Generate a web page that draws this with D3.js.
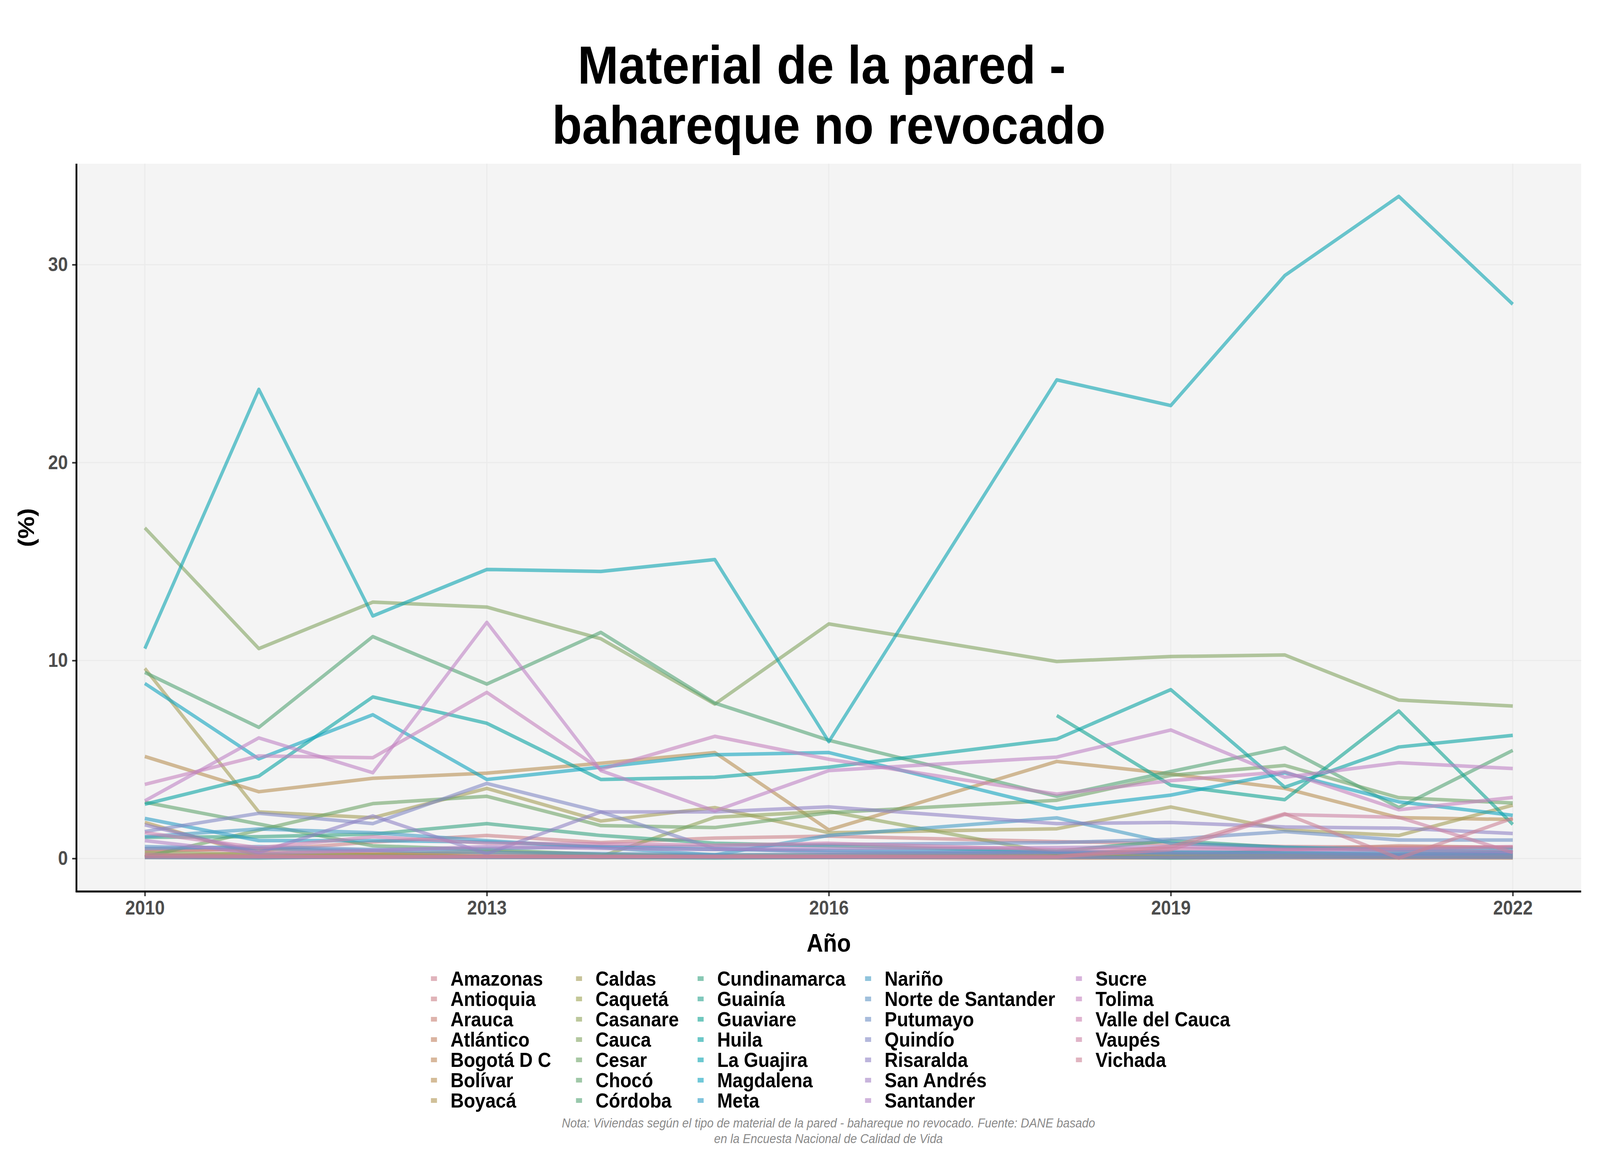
<!DOCTYPE html>
<html>
<head>
<meta charset="utf-8">
<script src="https://cdn.jsdelivr.net/npm/d3@7"></script>
<style>
  html, body { margin: 0; padding: 0; background: #ffffff; overflow: hidden; }
  svg { display: block; }
  text { font-family: "Liberation Sans", Arial, sans-serif; }
</style>
</head>
<body>
<svg id="chart"></svg>
<script>
const years = [2010, 2011, 2012, 2013, 2014, 2015, 2016, 2018, 2019, 2020, 2021, 2022];
const xTicks = [2010, 2013, 2016, 2019, 2022];
const yTicks = [0, 10, 20, 30];

const states = ["Amazonas", "Antioquia", "Arauca", "Atlántico", "Bogotá D C", "Bolívar", "Boyacá",
  "Caldas", "Caquetá", "Casanare", "Cauca", "Cesar", "Chocó", "Córdoba",
  "Cundinamarca", "Guainía", "Guaviare", "Huila", "La Guajira", "Magdalena", "Meta",
  "Nariño", "Norte de Santander", "Putumayo", "Quindío", "Risaralda", "San Andrés", "Santander",
  "Sucre", "Tolima", "Valle del Cauca", "Vaupés", "Vichada"];

// valores (%) por departamento, mismo orden que years
const amazonas     = [0.15, 0.1, 0.05, 0.1, 0.05, 0.1, 0.05, 0.1, 0.2, 0.1, 0.15, 0.1];
const antioquia    = [0.47, 0.41, 0.83, 1.16, 0.8, 1.03, 1.13, 0.85, 0.75, 0.6, 0.57, 0.57];
const arauca       = [0.35, 0.5, 0.3, 0.2, 0.1, 0.15, 0.1, 0.2, 0.1, 0.45, 0.64, 0.55];
const atlantico    = [0.1, 0.3, 0.2, 0.1, 0.05, 0.05, 0.05, 0.05, 0.05, 0.1, 0.05, 0.05];
const bogota       = [0.05, 0.05, 0.05, 0.05, 0.05, 0.05, 0.05, 0.02, 0.03, 0.02, 0.02, 0.02];
const bolivar      = [5.15, 3.37, 4.05, 4.31, 4.81, 5.35, 1.44, 4.9, 4.27, 3.54, 2.06, 1.97];
const boyaca       = [1.82, 0.15, 0.2, 0.35, 0.2, 0.15, 0.2, 0.25, 0.3, 0.25, 0.2, 0.3];
const caldas       = [9.6, 2.35, 2.06, 3.54, 1.89, 2.57, 1.3, 1.5, 2.6, 1.44, 1.16, 2.69];
const caqueta      = [0.2, 0.1, 0.15, 0.1, 0.05, 0.1, 0.1, 0.15, 0.2, 0.15, 0.1, 0.2];
const casanare     = [0.3, 0.2, 0.15, 0.1, 0.1, 2.08, 2.38, 0.24, 0.15, 0.2, 0.15, 0.2];
const cauca        = [16.7, 10.6, 12.95, 12.7, 11.1, 7.8, 11.85, 9.95, 10.2, 10.28, 8.0, 7.7];
const cesar        = [0.08, 1.43, 2.77, 3.14, 1.66, 1.56, 2.31, 2.94, 4.2, 4.7, 3.07, 2.8];
const choco        = [2.84, 1.74, 0.64, 0.44, 0.2, 0.1, 0.1, 0.05, 0.05, 0.1, 0.05, 0.1];
const cordoba      = [9.4, 6.62, 11.21, 8.81, 11.42, 7.85, 5.97, 3.14, 4.39, 5.6, 2.57, 5.46];
const cundinamarca = [1.07, 1.1, 1.23, 1.76, 1.16, 0.77, 0.64, 0.37, 0.9, 0.55, 0.4, 0.35];
const guainia      = [0.05, 0.02, 0.1, 0.05, 0.05, 0.02, 0.05, 0.1, 0.02, 0.05, 0.1, 0.05];
const guaviare     = [null, null, null, null, null, null, null, 7.22, 3.7, 2.97, 7.45, 1.72];
const huila        = [2.74, 4.16, 8.16, 6.83, 3.99, 4.1, 4.61, 6.03, 8.53, 3.6, 5.63, 6.22];
const laGuajira    = [10.6, 23.7, 12.25, 14.6, 14.5, 15.1, 5.9, 24.18, 22.88, 29.45, 33.45, 28.0];
const magdalena    = [8.84, 5.03, 7.26, 3.99, 4.61, 5.24, 5.35, 2.52, 3.2, 4.33, 2.86, 2.18];
const meta         = [2.02, 0.9, 0.9, 0.83, 0.6, 0.45, 0.4, 0.35, 0.3, 0.3, 0.25, 0.3];
const narino       = [1.1, 1.49, 1.3, 0.9, 0.55, 0.18, 1.16, 2.05, 0.77, 0.57, 0.45, 0.5];
const norteSantander = [0.6, 0.5, 0.4, 0.3, 0.25, 0.2, 0.2, 0.3, 0.35, 0.3, 0.2, 0.25];
const putumayo     = [0.5, 0.6, 0.45, 0.5, 0.6, 0.6, 0.7, 0.8, 0.97, 1.36, 0.93, 0.93];
const quindio      = [1.36, 2.28, 1.76, 3.79, 2.35, 0.5, 0.31, 0.3, 0.25, 0.2, 0.2, 0.2];
const risaralda    = [1.7, 0.3, 2.15, 0.24, 2.35, 2.35, 2.61, 1.76, 1.82, 1.59, 1.53, 1.26];
const sanAndres    = [0.05, 0.05, 0.05, 0.05, 0.05, 0.05, 0.05, 0.05, 0.05, 0.05, 0.05, 0.05];
const santander    = [0.9, 0.25, 0.4, 0.6, 0.5, 0.45, 0.5, 0.55, 0.6, 0.45, 0.4, 0.35];
const sucre        = [2.91, 6.09, 4.33, 11.93, 4.44, 2.4, 4.44, 5.12, 6.49, 4.1, 4.84, 4.54];
const tolima       = [3.74, 5.18, 5.09, 8.39, 4.5, 6.17, 5.01, 3.25, 3.93, 4.38, 2.46, 3.08];
const valle        = [1.3, 0.54, 1.1, 0.77, 0.74, 0.67, 0.77, 0.44, 0.5, 0.45, 0.5, 0.6];
const vaupes       = [0.2, 0.1, 0.1, 0.1, 0.1, 0.1, 0.1, 0.08, 0.44, 2.22, 2.08, 0.3];
const vichada      = [0.1, 0.1, 0.1, 0.1, 0.1, 0.1, 0.1, 0.1, 0.6, 2.26, 0.02, 2.03];

const seriesValues = [amazonas, antioquia, arauca, atlantico, bogota, bolivar, boyaca,
  caldas, caqueta, casanare, cauca, cesar, choco, cordoba,
  cundinamarca, guainia, guaviare, huila, laGuajira, magdalena, meta,
  narino, norteSantander, putumayo, quindio, risaralda, sanAndres, santander,
  sucre, tolima, valle, vaupes, vichada];

const palette = ["#CB828F", "#CB8289", "#C88275", "#C18261", "#BE895A", "#B78F53", "#B19653",
  "#A39D57", "#9DA353", "#8FA35A", "#82A361", "#6EA367", "#61A36E", "#53A375",
  "#39A382", "#2BA38F", "#11A393", "#0AA3A3", "#0AA3B1", "#11A3BE", "#2B9DC5",
  "#469DC5", "#6196C5", "#6E8FC5", "#8289C5", "#8F82C5", "#A382C5", "#B182C5",
  "#BE82C5", "#C582BE", "#CB82B1", "#CB82A3", "#CB8296"];

const W = 4500, H = 3000;
const panel = {left: 215, right: 4447, top: 419, bottom: 2282};
const cx = (panel.left + panel.right) / 2;

// el svg se ajusta a la ventana, dibujado en coordenadas 4500x3000
const svg = d3.select("#chart")
  .attr("viewBox", `0 0 ${W} ${H}`)
  .attr("preserveAspectRatio", "none")
  .style("width", "100vw")
  .style("height", "100vh");
svg.append("rect").attr("width", W).attr("height", H).attr("fill", "#ffffff");

const x = d3.scaleLinear().domain([2009.4, 2022.6]).range([panel.left, panel.right]);
const y = d3.scaleLinear().domain([-1.67, 35.1]).range([panel.bottom, panel.top]);

// panel + grid
svg.append("rect")
  .attr("x", panel.left).attr("y", panel.top)
  .attr("width", panel.right - panel.left).attr("height", panel.bottom - panel.top)
  .attr("fill", "#f4f4f4");

svg.append("g").selectAll("line").data(yTicks).enter().append("line")
  .attr("x1", panel.left).attr("x2", panel.right)
  .attr("y1", d => y(d)).attr("y2", d => y(d))
  .attr("stroke", "#ebebeb").attr("stroke-width", 3);
svg.append("g").selectAll("line").data(xTicks).enter().append("line")
  .attr("y1", panel.top).attr("y2", panel.bottom)
  .attr("x1", d => x(d)).attr("x2", d => x(d))
  .attr("stroke", "#ebebeb").attr("stroke-width", 3);

// lineas
const line = d3.line()
  .defined(d => d.v !== null)
  .x(d => x(d.year))
  .y(d => y(d.v));

const series = states.map((name, i) => ({
  name,
  color: palette[i],
  points: years.map((yr, j) => ({year: yr, v: seriesValues[i][j]}))
}));

svg.append("g").selectAll("path").data(series).enter().append("path")
  .attr("d", d => line(d.points))
  .attr("fill", "none")
  .attr("stroke", d => d.color)
  .attr("stroke-opacity", 0.6)
  .attr("stroke-width", 9)
  .attr("stroke-linejoin", "round");

// ejes
const xAxis = d3.axisBottom(x).tickValues(xTicks).tickFormat(d3.format("d")).tickSize(12).tickPadding(12);
const yAxis = d3.axisLeft(y).tickValues(yTicks).tickSize(12).tickPadding(12);

const gx = svg.append("g").attr("transform", `translate(0, ${panel.bottom})`).call(xAxis);
const gy = svg.append("g").attr("transform", `translate(${panel.left}, 0)`).call(yAxis);
[gx, gy].forEach(g => {
  g.select(".domain").remove();
  g.selectAll(".tick line").attr("stroke", "#333333").attr("stroke-width", 4);
  g.selectAll(".tick text").attr("fill", "#4d4d4d").attr("font-size", 50).attr("font-weight", "bold")
    .attr("font-family", "Liberation Sans, Arial, sans-serif");
});
svg.append("line").attr("x1", panel.left).attr("x2", panel.left)
  .attr("y1", panel.top).attr("y2", panel.bottom + 2)
  .attr("stroke", "#000").attr("stroke-width", 5);
svg.append("line").attr("x1", panel.left - 2).attr("x2", panel.right)
  .attr("y1", panel.bottom).attr("y2", panel.bottom)
  .attr("stroke", "#000").attr("stroke-width", 5);

// titulos
svg.append("text").attr("x", cx - 20).attr("y", 214).attr("text-anchor", "middle")
  .attr("font-size", 138).attr("font-weight", "bold").text("Material de la pared -");
svg.append("text").attr("x", cx).attr("y", 368).attr("text-anchor", "middle")
  .attr("font-size", 138).attr("font-weight", "bold").text("bahareque no revocado");

svg.append("text").attr("x", cx).attr("y", 2436).attr("text-anchor", "middle")
  .attr("font-size", 64).attr("font-weight", "bold").text("Año");
svg.append("text").attr("transform", `translate(96, ${(panel.top + panel.bottom) / 2}) rotate(-90)`)
  .attr("text-anchor", "middle").attr("font-size", 64).attr("font-weight", "bold").text("(%)");

// leyenda
const colX = [1212, 1620, 1962, 2433, 3026];
const rowY0 = 2505, rowH = 52;
const legend = svg.append("g").selectAll("g").data(series).enter().append("g")
  .attr("transform", (d, i) => `translate(${colX[Math.floor(i / 7)]}, ${rowY0 + (i % 7) * rowH})`);
legend.append("rect").attr("x", 0).attr("y", -6).attr("width", 17).attr("height", 12)
  .attr("fill", d => d.color).attr("fill-opacity", 0.6);
legend.append("text").attr("x", 55).attr("y", 18).attr("font-size", 52).attr("font-weight", "bold")
  .attr("fill", "#000").text(d => d.name);

// nota
svg.append("text").attr("x", 2330).attr("y", 2886).attr("text-anchor", "middle")
  .attr("font-size", 33).attr("font-style", "italic").attr("fill", "#8a8a8a")
  .text("Nota: Viviendas según el tipo de material de la pared - bahareque no revocado. Fuente: DANE basado");
svg.append("text").attr("x", 2330).attr("y", 2926).attr("text-anchor", "middle")
  .attr("font-size", 33).attr("font-style", "italic").attr("fill", "#8a8a8a")
  .text("en la Encuesta Nacional de Calidad de Vida");
</script>
</body>
</html>
